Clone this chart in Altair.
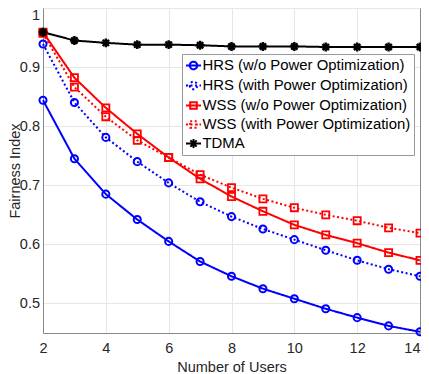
import altair as alt
import pandas as pd

users = list(range(2, 15))
series_names = [
    "HRS (w/o Power Optimization)",
    "HRS (with Power Optimization)",
    "WSS (w/o Power Optimization)",
    "WSS (with Power Optimization)",
    "TDMA",
]
hrs_wo = [0.844, 0.745, 0.685, 0.642, 0.605, 0.571, 0.546, 0.525, 0.508, 0.491, 0.476, 0.462, 0.452]
hrs_with = [0.939, 0.840, 0.781, 0.740, 0.704, 0.672, 0.647, 0.626, 0.608, 0.590, 0.573, 0.558, 0.546]
wss_wo = [0.959, 0.882, 0.831, 0.787, 0.747, 0.711, 0.681, 0.656, 0.633, 0.616, 0.602, 0.586, 0.573]
wss_with = [0.957, 0.866, 0.816, 0.776, 0.747, 0.718, 0.696, 0.677, 0.662, 0.650, 0.640, 0.628, 0.619]
tdma = [0.959, 0.945, 0.941, 0.938, 0.938, 0.937, 0.935, 0.935, 0.935, 0.934, 0.934, 0.934, 0.934]

colors = ["#0000ff", "#0000ff", "#ff0000", "#ff0000", "#000000"]
dashes = [[1, 0], [2, 2.5], [1, 0], [2, 2.5], [1, 0]]

rows = []
for name, vals in zip(series_names, [hrs_wo, hrs_with, wss_wo, wss_with, tdma]):
    for u, v in zip(users, vals):
        rows.append({"users": u, "fair": v, "series": name})
df = pd.DataFrame(rows)

FONT = "Liberation Sans"
W, H = 377, 325

xscale = alt.Scale(domain=[2, 14], nice=False)
yscale = alt.Scale(domain=[0.45, 1.0], nice=False, zero=False)
cscale = alt.Scale(domain=series_names, range=colors)
dscale = alt.Scale(domain=series_names, range=dashes)

xenc = alt.X("users:Q", scale=xscale,
             axis=alt.Axis(values=[2, 4, 6, 8, 10, 12, 14], format="d", title="Number of Users",
                           labelAlign={"expr": "datum.value == 14 ? 'right' : 'center'"},
                           titleBaseline="alphabetic", titleY=38, titleX=W / 2))
yenc = alt.Y("fair:Q", scale=yscale,
             axis=alt.Axis(values=[0.5, 0.6, 0.7, 0.8, 0.9, 1.0], format=".1~f", title="Fairness Index",
                           labelBaseline={"expr": "datum.value == 1 ? 'top' : 'middle'"},
                           titleBaseline="alphabetic", titleX=-23.5, titleY=H / 2))

base = alt.Chart(df)

leg_circle = "M-1,0L1,0M-0.5,0A0.5,0.5 0 1,0 0.5,0A0.5,0.5 0 1,0 -0.5,0"
leg_square = "M-1,0L1,0M-0.44,-0.44L0.44,-0.44L0.44,0.44L-0.44,0.44Z"
leg_star = "M-1,0L1,0M0,-0.6L0,0.6M-0.42,-0.42L0.42,0.42M-0.42,0.42L0.42,-0.42"
sscale = alt.Scale(domain=series_names, range=[leg_circle, leg_circle, leg_square, leg_square, leg_star])

legend_layer = base.transform_filter("datum.users < 0").mark_point(
    filled=False, strokeWidth=2, opacity=1
).encode(
    x=xenc,
    y=yenc,
    color=alt.Color("series:N", scale=cscale, legend=alt.Legend(title=None)),
    strokeDash=alt.StrokeDash("series:N", scale=dscale, legend=alt.Legend(title=None)),
    shape=alt.Shape("series:N", scale=sscale, legend=alt.Legend(title=None)),
)

lines = base.mark_line(strokeWidth=2, strokeCap="butt").encode(
    x=xenc, y=yenc,
    color=alt.Color("series:N", scale=cscale, legend=None),
    strokeDash=alt.StrokeDash("series:N", scale=dscale, legend=None),
    detail="series:N",
)

circles = base.transform_filter(
    alt.FieldOneOfPredicate(field="series", oneOf=series_names[:2])
).mark_point(shape="circle", filled=False, size=50, strokeWidth=2, opacity=1).encode(
    x=xenc, y=yenc, color=alt.Color("series:N", scale=cscale, legend=None)
)

squares = base.transform_filter(
    alt.FieldOneOfPredicate(field="series", oneOf=series_names[2:4])
).mark_point(shape="square", filled=False, size=50, strokeWidth=1.8, opacity=1).encode(
    x=xenc, y=yenc, color=alt.Color("series:N", scale=cscale, legend=None)
)

star_path = "M-1,0L1,0M0,-1L0,1M-0.7,-0.7L0.7,0.7M-0.7,0.7L0.7,-0.7"
stars = base.transform_filter(
    alt.FieldEqualPredicate(field="series", equal="TDMA")
).mark_point(shape=star_path, filled=False, size=80, strokeWidth=2.4, opacity=1).encode(
    x=xenc, y=yenc, color=alt.Color("series:N", scale=cscale, legend=None)
)

frame = base.transform_filter("datum.users < 0").mark_point(opacity=0).encode(
    x=xenc,
    y=alt.Y("fair:Q", scale=yscale,
            axis=alt.Axis(orient="right", labels=False, ticks=False, grid=False, title=None)),
)

main = alt.layer(legend_layer, lines, circles, squares, stars)

chart = alt.layer(main, frame).resolve_axis(
    y="independent"
).properties(
    width=W, height=H,
    autosize=alt.AutoSizeParams(type="none"),
    padding={"left": 35, "top": 0, "right": 1, "bottom": 43},
).configure_view(stroke=None).configure_axis(
    labelFont=FONT, titleFont=FONT, labelFontSize=14.5, titleFontSize=14.5,
    labelColor="#262626", titleColor="#262626", titleFontWeight="normal",
    gridColor="#e6e6e6", domainColor="#888888", domainWidth=1, ticks=False,
).configure_axisX(labelPadding=8).configure_axisY(
    labelPadding=3.5
).configure_legend(
    orient="none", legendX=139, legendY=46,
    labelFont=FONT, labelFontSize=14.9, labelColor="#000000", labelLimit=400,
    symbolSize=225, symbolStrokeWidth=2, symbolFillColor="transparent",
    strokeColor="#999999", fillColor="#ffffff", padding=3, rowPadding=3,
    labelOffset=0.5, cornerRadius=0,
)

chart.save("out.html", embed_options={"renderer": "svg", "actions": False})
